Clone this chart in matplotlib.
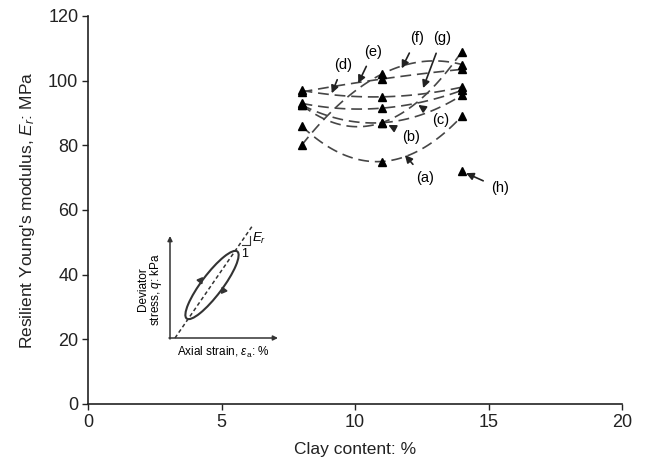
import matplotlib.pyplot as plt
import numpy as np
from matplotlib.patches import Ellipse

plt.rcParams['font.family'] = ['Liberation Sans', 'DejaVu Sans']
plt.rcParams['mathtext.fontset'] = 'custom'
plt.rcParams['mathtext.rm'] = 'Liberation Sans'
plt.rcParams['mathtext.it'] = 'Liberation Sans:italic'

# Resilient modulus at 8, 11 and 14 % clay for each test series
clay = [8, 11, 14]
series_a = [86, 75, 89]
series_b = [92.5, 87, 95.5]
series_c = [93, 91.5, 97]
series_d = [97, 95, 98]
series_e = [80, 102, 105]
series_f = [96.5, 100.5, 103.5]
series_g = [92.5, 87, 109]
single_h_clay = [14]
single_h = [72]

series = [series_a, series_b, series_c, series_d, series_e, series_f, series_g]
tags = ['(a)', '(b)', '(c)', '(d)', '(e)', '(f)', '(g)', '(h)']

fig = plt.figure(figsize=(6.47, 4.66), dpi=100)
ax = fig.add_axes([88 / 647, 1 - 404 / 466, 534 / 647, 388 / 466])

line_col = '#464646'
for vals in series:
    coef = np.polyfit(clay, vals, 2)
    xs = np.linspace(clay[0], clay[-1], 80)
    ax.plot(xs, np.polyval(coef, xs), color=line_col, lw=1.2,
            dashes=(6.5, 3.5), zorder=2)
    ax.plot(clay, vals, '^', color='black', ms=5.4, zorder=3)
ax.plot(single_h_clay, single_h, '^', color='black', ms=5.4, zorder=3)

# label text position -> arrow tip
callouts = {
    '(a)': ((12.62, 69.8), (11.87, 77.0)),
    '(b)': ((12.1, 82.7), (11.25, 86.3)),
    '(c)': ((13.2, 87.8), (12.37, 92.5)),
    '(d)': ((9.56, 104.9), (9.13, 96.1)),
    '(e)': ((10.69, 109.0), (10.12, 99.2)),
    '(f)': ((12.31, 113.1), (11.75, 103.8)),
    '(g)': ((13.25, 113.1), (12.55, 97.7)),
    '(h)': ((15.43, 66.7), (14.16, 71.4)),
}
for t in tags:
    (tx, ty), (px, py) = callouts[t]
    ax.annotate(t, xy=(px, py), xytext=(tx, ty), ha='center', va='center',
                fontsize=10.5,
                arrowprops=dict(arrowstyle='-|>', color='#222222', lw=1.2,
                                mutation_scale=11, shrinkA=4, shrinkB=0))

ax.set_xlim(0, 20)
ax.set_ylim(0, 120)
ax.set_xticks([0, 5, 10, 15, 20])
ax.set_yticks(range(0, 121, 20))
ax.tick_params(direction='out', length=4, width=1, labelsize=13, pad=3,
               colors='#222222')
for s in ['top', 'right']:
    ax.spines[s].set_visible(False)
for s in ['left', 'bottom']:
    ax.spines[s].set_linewidth(1.2)
    ax.spines[s].set_color('#222222')
ax.set_xlabel('Clay content: %', fontsize=12.5, labelpad=8, color='#222222')
ax.set_ylabel("Resilient Young's modulus, $E_r$: MPa", fontsize=12.5, labelpad=8,
              color='#222222')

# inset sketch of the resilient loop (units roughly one pixel each)
ins = fig.add_axes([168 / 647, 1 - 342 / 466, 115 / 647, 122 / 466])
ins.set_xlim(0, 115)
ins.set_ylim(0, 122)
ins.axis('off')
ink = '#333333'
ins.annotate('', xy=(2, 106), xytext=(2, 3),
             arrowprops=dict(arrowstyle='-|>', color=ink, lw=1.1, mutation_scale=7,
                             shrinkA=0, shrinkB=0))
ins.annotate('', xy=(110, 4), xytext=(1, 4),
             arrowprops=dict(arrowstyle='-|>', color=ink, lw=1.1, mutation_scale=7,
                             shrinkA=0, shrinkB=0))
ins.plot([7, 85], [4, 117], color=ink, lw=1.1, dashes=(2.5, 1.8))
ins.add_patch(Ellipse((44, 57), 84, 21, angle=53, fill=False, ec=ink, lw=1.5))
ins.plot([32], [62], marker=(3, 0, -37), color=ink, ms=5)
ins.plot([55], [52], marker=(3, 0, 143), color=ink, ms=5)
ins.plot([74, 82, 82], [97, 97, 106], color=ink, lw=0.8)
ins.text(84, 104, '$E_r$', fontsize=9.5, va='center', ha='left')
ins.text(77, 88, '1', fontsize=9, va='center', ha='center')
ins.text(-25, 53, 'Deviator', rotation=90, fontsize=8.5, ha='center', va='center')
ins.text(-12, 53, 'stress, $q$: kPa', rotation=90, fontsize=8.5, ha='center', va='center')
ins.text(55, -10, r'Axial strain, $\varepsilon_\mathrm{a}$: %', fontsize=8.5,
         ha='center', va='center')

fig.savefig('out.png', dpi=100)
